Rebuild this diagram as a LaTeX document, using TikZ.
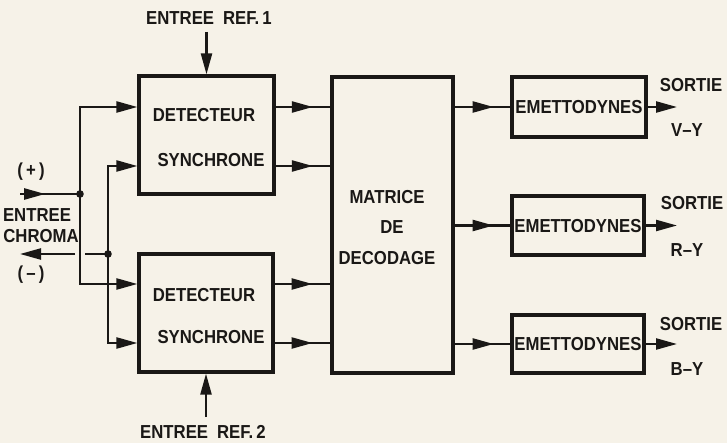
\documentclass[tikz,border=0pt]{standalone}
\usepackage{fontspec}
\setmainfont[FakeStretch=0.89]{Liberation Sans}
\usetikzlibrary{arrows.meta,decorations.markings}
\definecolor{ink}{HTML}{1A1816}
\definecolor{paper}{HTML}{F6F2E8}
\begin{document}
\begin{tikzpicture}[x=1pt,y=-1pt,
  box/.style={draw=ink,line width=3.2pt,inner sep=0pt},
  txt/.style={inner sep=0pt,text height=13.4pt,text depth=0pt,text=ink,
    font=\fontsize{18.8}{20}\selectfont\bfseries},
  wire/.style={draw=ink,line width=2.3pt},
  arr/.style={wire,-{Triangle[length=21pt,width=11pt]}},
  mid/.style={wire,postaction={decorate},
    decoration={markings,mark=at position #1 with {\arrow{Triangle[length=21pt,width=11pt]}}}}]
\fill[paper] (0,0) rectangle (727,443);
\useasboundingbox (0,0) rectangle (727,443);
% boxes
\node[box,minimum width=135pt,minimum height=118pt] (det1) at (206.5,135) {};
\node[box,minimum width=134pt,minimum height=118pt] (det2) at (206,313) {};
\node[box,minimum width=121pt,minimum height=296pt] (mat) at (392.5,225) {};
\node[box,minimum width=134pt,minimum height=60pt] (em1) at (579,107) {};
\node[box,minimum width=132pt,minimum height=59pt] (em2) at (578,225.5) {};
\node[box,minimum width=132pt,minimum height=58pt] (em3) at (578,344) {};
% box texts
\node[txt] (d1a) at (204,115) {DETECTEUR};
\node[txt] (d1b) at (211,160) {SYNCHRONE};
\node[txt] (d2a) at (204,295) {DETECTEUR};
\node[txt] (d2b) at (211,337) {SYNCHRONE};
\node[txt] (m1) at (387,197) {MATRICE};
\node[txt] (m2) at (392,227) {DE};
\node[txt] (m3) at (387,258) {DECODAGE};
\node[txt] (e1) at (579,107) {EMETTODYNES};
\node[txt] (e2) at (578,225.5) {EMETTODYNES};
\node[txt] (e3) at (578,344) {EMETTODYNES};
% outer labels
\node[txt] (ref1) at (209,18) {ENTREE\hspace{9pt}REF.\,1};
\node[txt] (ref2) at (203,432) {ENTREE\hspace{9pt}REF.\,2};
\node[txt] (plus) at (31,170) {(\,+\,)};
\node[txt] (ent) at (37,215) {ENTREE};
\node[txt] (chr) at (41,236) {CHROMA};
\node[txt] (minus) at (31,273) {(\,–\,)};
\node[txt] (s1) at (691,85) {SORTIE};
\node[txt] (vy) at (687,130) {V–Y};
\node[txt] (s2) at (692,203) {SORTIE};
\node[txt] (ry) at (687,250) {R–Y};
\node[txt] (s3) at (691,324) {SORTIE};
\node[txt] (by) at (687,369) {B–Y};
% coordinates
\coordinate (inP) at (20,194);
\coordinate (j1) at (80,194);
\coordinate (j2) at (108,254);
\coordinate (inM) at (20,254);
\coordinate (gR) at (85,254);
\coordinate (gL) at (75,254);
\coordinate (r1) at (206.5,32);
\coordinate (r2) at (206,417);
\coordinate (o1) at (677,107);
\coordinate (o2) at (677,225.5);
\coordinate (o3) at (677,344);
% input wiring
\draw[mid=0.42] (inP) -- (j1);
\draw[arr] (j1) |- (det1.west |- 0,107);
\draw[arr] (j1) |- (det2.west |- 0,284);
\draw[wire] (j2) -- (gR);
\draw[arr] (gL) -- (inM);
\draw[arr] (j2) |- (det1.west |- 0,166);
\draw[arr] (j2) |- (det2.west |- 0,343);
\fill[ink] (j1) circle (3.8pt);
\fill[ink] (j2) circle (3.8pt);
% references
\draw[arr] (r1) -- (det1.north);
\draw[arr] (r2) -- (det2.south);
% detectors to matrix
\draw[mid=0.68] (det1.east |- 0,107) -- (mat.west |- 0,107);
\draw[mid=0.68] (det1.east |- 0,166) -- (mat.west |- 0,166);
\draw[mid=0.68] (det2.east |- 0,284) -- (mat.west |- 0,284);
\draw[mid=0.68] (det2.east |- 0,343) -- (mat.west |- 0,343);
% matrix to emettodynes
\draw[mid=0.7] (mat.east |- em1.west) -- (em1.west);
\draw[mid=0.7] (mat.east |- em2.west) -- (em2.west);
\draw[mid=0.7] (mat.east |- em3.west) -- (em3.west);
% outputs
\draw[arr] (em1.east) -- (o1);
\draw[arr] (em2.east) -- (o2);
\draw[arr] (em3.east) -- (o3);
\end{tikzpicture}
\end{document}
